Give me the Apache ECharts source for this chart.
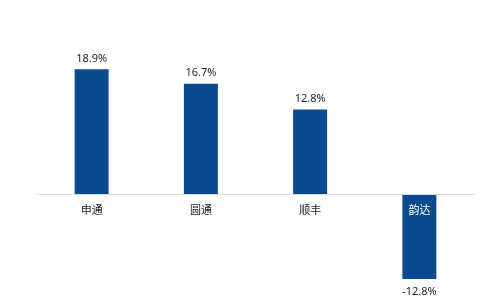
<!DOCTYPE html>
<html><head><meta charset="utf-8">
<script src="https://cdn.jsdelivr.net/npm/echarts@6/dist/echarts.min.js"></script>
<style>html,body{margin:0;padding:0;background:#fff}#c{width:500px;height:300px}</style>
</head><body><div id="c"></div>
<script>
const categories = ['申通', '圆通', '顺丰', '韵达'];
const growth = [18.9, 16.7, 12.8, -12.8];

const yMin = -15, yMax = 20;
const gridTop = 62, gridBottom = 6.5, H = 300;
const plotH = H - gridTop - gridBottom;
const zeroOffset = -plotH * (0 - yMin) / (yMax - yMin);

const chart = echarts.init(document.getElementById('c'));
chart.setOption({
  animation: false,
  grid: { left: 37, right: 26, top: gridTop, bottom: gridBottom, outerBoundsMode: 'none', containLabel: false },
  xAxis: {
    type: 'category',
    data: categories,
    z: 10,
    offset: zeroOffset,
    axisLine: { onZero: false, lineStyle: { color: '#d9d9d9', width: 1 } },
    axisTick: { show: false },
    axisLabel: {
      margin: 10,
      fontSize: 11,
      fontFamily: 'Noto Sans CJK SC',
      color: function (v, i) { return growth[i] < 0 ? '#ffffff' : '#262626'; }
    }
  },
  yAxis: { type: 'value', min: yMin, max: yMax, show: false, splitLine: { show: false } },
  series: [{
    type: 'bar',
    data: growth.map(function (v) {
      return v < 0 ? { value: v, label: { position: 'bottom', distance: 7 } } : v;
    }),
    barWidth: 34,
    itemStyle: { color: '#0B4A8F' },
    label: {
      show: true,
      position: 'top',
      distance: 5,
      fontSize: 11,
      fontFamily: 'Liberation Sans Narrow, Noto Sans',
      color: '#262626',
      formatter: function (p) { return p.value.toFixed(1) + '%'; }
    }
  }]
});
</script></body></html>
